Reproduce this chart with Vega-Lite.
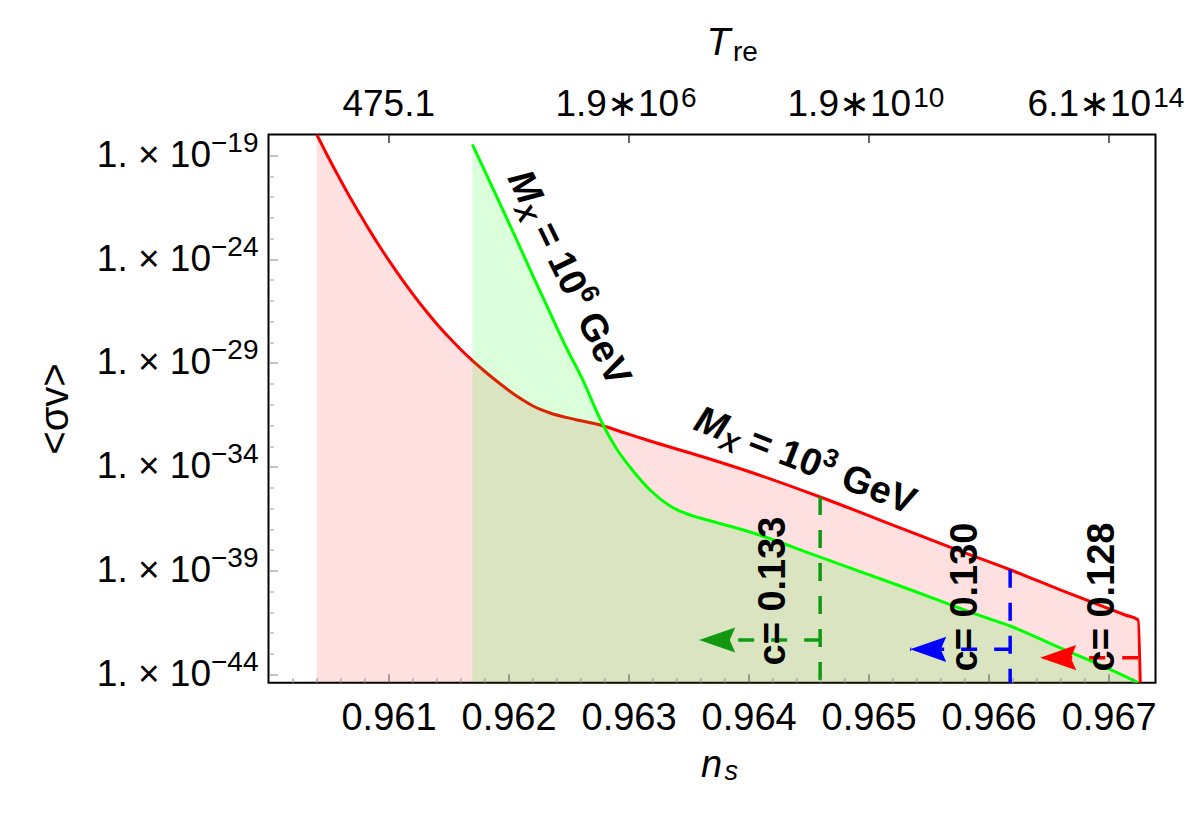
{
  "$schema": "https://vega.github.io/schema/vega-lite/v6.json",
  "width": 887,
  "height": 548.2,
  "autosize": {"type": "none"},
  "padding": {"left": 268.5, "top": 134.5, "right": 44.5, "bottom": 134.3},
  "background": "white",
  "config": {
    "view": {"stroke": "black", "strokeWidth": 2},
    "font": "Liberation Sans",
    "axis": {
      "grid": false,
      "domain": false,
      "labelFont": "Liberation Sans",
      "titleFont": "Liberation Sans",
      "labelColor": "black",
      "titleColor": "black",
      "labelFlush": false,
      "labelOverlap": false,
      "titleFontWeight": "normal"
    }
  },
  "datasets": {
    "mx3": [
      {"ns": 0.960402, "sv": 1.0e-18},
      {"ns": 0.960496, "sv": 8.53e-20},
      {"ns": 0.960596, "sv": 7.05e-21},
      {"ns": 0.960679, "sv": 9.57e-22},
      {"ns": 0.960763, "sv": 1.41e-22},
      {"ns": 0.960846, "sv": 2.23e-23},
      {"ns": 0.960929, "sv": 3.83e-24},
      {"ns": 0.961013, "sv": 7.1e-25},
      {"ns": 0.961096, "sv": 1.42e-25},
      {"ns": 0.961196, "sv": 2.31e-26},
      {"ns": 0.961304, "sv": 3.62e-27},
      {"ns": 0.961404, "sv": 7.33e-28},
      {"ns": 0.961513, "sv": 1.49e-28},
      {"ns": 0.961604, "sv": 4.3e-29},
      {"ns": 0.961704, "sv": 1.22e-29},
      {"ns": 0.961813, "sv": 3.47e-30},
      {"ns": 0.961929, "sv": 1.0e-30},
      {"ns": 0.962071, "sv": 2.47e-31},
      {"ns": 0.962204, "sv": 8.43e-32},
      {"ns": 0.962346, "sv": 3.88e-32},
      {"ns": 0.962554, "sv": 1.89e-32},
      {"ns": 0.962763, "sv": 1.03e-32},
      {"ns": 0.962971, "sv": 4.23e-33},
      {"ns": 0.963179, "sv": 1.74e-33},
      {"ns": 0.963596, "sv": 3.3e-34},
      {"ns": 0.964013, "sv": 5.6e-35},
      {"ns": 0.964596, "sv": 3.5e-36},
      {"ns": 0.965263, "sv": 1.14e-37},
      {"ns": 0.965763, "sv": 8.61e-39},
      {"ns": 0.966179, "sv": 1.1e-39},
      {"ns": 0.966596, "sv": 1.19e-40},
      {"ns": 0.966929, "sv": 2.13e-41},
      {"ns": 0.967138, "sv": 7.28e-42},
      {"ns": 0.967246, "sv": 4.19e-42},
      {"ns": 0.967263, "sv": 4.0e-45}
    ],
    "mx6": [
      {"ns": 0.961698, "sv": 3.37e-19},
      {"ns": 0.961888, "sv": 1.52e-21},
      {"ns": 0.962068, "sv": 8.32e-24},
      {"ns": 0.962204, "sv": 1.53e-25},
      {"ns": 0.962346, "sv": 2.54e-27},
      {"ns": 0.962479, "sv": 5.85e-29},
      {"ns": 0.962621, "sv": 1.4e-30},
      {"ns": 0.962763, "sv": 2.0e-32},
      {"ns": 0.962896, "sv": 8.02e-34},
      {"ns": 0.963038, "sv": 6.25e-35},
      {"ns": 0.963179, "sv": 7.6e-36},
      {"ns": 0.963346, "sv": 1.29e-36},
      {"ns": 0.963488, "sv": 5.31e-37},
      {"ns": 0.963596, "sv": 3.41e-37},
      {"ns": 0.964013, "sv": 7.23e-38},
      {"ns": 0.964586, "sv": 4.68e-39},
      {"ns": 0.965263, "sv": 1.82e-40},
      {"ns": 0.965992, "sv": 5.06e-42},
      {"ns": 0.966179, "sv": 2.15e-42},
      {"ns": 0.966596, "sv": 1.88e-43},
      {"ns": 0.966929, "sv": 2.85e-44},
      {"ns": 0.967246, "sv": 4.0e-45}
    ],
    "cuts": [
      {"c": "0.133", "label": "c= 0.133", "ns": 0.964596, "top": 3.5e-36, "tip": 0.963588, "arrow": 4.55e-43, "label_ns": 0.964213, "label_sv": 1.04e-40},
      {"c": "0.130", "label": "c= 0.130", "ns": 0.966179, "top": 1.1e-39, "tip": 0.965346, "arrow": 1.63e-43, "label_ns": 0.965809, "label_sv": 5.36e-41},
      {"c": "0.128", "label": "c= 0.128", "ns": 0.967246, "top": 4.19e-42, "tip": 0.966429, "arrow": 6.4e-44, "label_ns": 0.966954, "label_sv": 5.36e-41}
    ],
    "masses": [
      {"mass": "3", "ns": 0.963529, "sv": 6.59e-33},
      {"mass": "6", "ns": 0.961988, "sv": 8.04e-21}
    ]
  },
  "resolve": {"axis": {"x": "independent", "y": "independent"}},
  "layer": [
    {
      "data": {"name": "mx3"},
      "mark": {"type": "area", "color": "#ff0000", "opacity": 0.12, "clip": true, "interpolate": "monotone"},
      "encoding": {
        "x": {
          "field": "ns", "type": "quantitative",
          "scale": {"domain": [0.96, 0.96739], "nice": false, "zero": false},
          "axis": {
            "orient": "bottom", "values": [0.961, 0.962, 0.963, 0.964, 0.965, 0.966, 0.967],
            "format": ".3f", "ticks": false, "labelFontSize": 38, "labelPadding": 17,
            "title": "n", "titleFontSize": 38, "titleFontStyle": "italic",
            "titleX": 442.5, "titleY": 94, "titleAlign": "center", "titleBaseline": "alphabetic"
          }
        },
        "y": {
          "field": "sv", "type": "quantitative",
          "scale": {"type": "log", "domain": [4e-45, 1e-18], "nice": false},
          "axis": {
            "orient": "left", "values": [1e-19, 1e-24, 1e-29, 1e-34, 1e-39, 1e-44],
            "labelExpr": "'1. × 10'", "ticks": false, "labelFontSize": 37, "labelPadding": 58,
            "labelAlign": "right", "labelBaseline": "middle",
            "title": "<σv>", "titleFontSize": 40, "titleAngle": 270,
            "titleX": -213.5, "titleY": 274, "titleAlign": "center", "titleBaseline": "middle"
          }
        },
        "y2": {"datum": 4e-45}
      }
    },
    {
      "data": {"name": "mx3"},
      "mark": {"type": "line", "color": "#ff0000", "strokeWidth": 3, "clip": true, "interpolate": "monotone"},
      "encoding": {
        "x": {
          "field": "ns", "type": "quantitative",
          "scale": {"domain": [0.96, 0.96739], "nice": false, "zero": false},
          "axis": {
            "orient": "bottom", "values": [0.961, 0.962, 0.963, 0.964, 0.965, 0.966, 0.967],
            "labels": false, "tickSize": 9, "offset": -9, "tickColor": "#555555", "tickWidth": 1,
            "zindex": 1, "title": null
          }
        },
        "y": {
          "field": "sv", "type": "quantitative",
          "scale": {"type": "log", "domain": [4e-45, 1e-18], "nice": false},
          "axis": {
            "orient": "left", "values": [1e-19, 1e-24, 1e-29, 1e-34, 1e-39, 1e-44],
            "labelExpr": "'−' + round(-log(datum.value) / LN10)", "ticks": false,
            "labelFontSize": 28, "labelPadding": 58, "labelAlign": "left",
            "labelBaseline": "middle", "labelOffset": -12, "title": null
          }
        }
      }
    },
    {
      "data": {"name": "mx6"},
      "mark": {"type": "area", "color": "#00ff00", "opacity": 0.14, "clip": true, "interpolate": "monotone"},
      "encoding": {
        "x": {
          "field": "ns", "type": "quantitative",
          "scale": {"domain": [0.96, 0.96739], "nice": false, "zero": false},
          "axis": {
            "orient": "bottom",
            "values": [0.9602, 0.9604, 0.9606, 0.9608, 0.9612, 0.9614, 0.9616, 0.9618, 0.9622, 0.9624, 0.9626, 0.9628, 0.9632, 0.9634, 0.9636, 0.9638, 0.9642, 0.9644, 0.9646, 0.9648, 0.9652, 0.9654, 0.9656, 0.9658, 0.9662, 0.9664, 0.9666, 0.9668, 0.9672],
            "labels": false, "tickSize": 5, "offset": -5, "tickColor": "#888888", "tickWidth": 1,
            "zindex": 1,
            "title": "s", "titleFontSize": 27, "titleFontStyle": "italic",
            "titleX": 455.5, "titleY": 102, "titleAlign": "left", "titleBaseline": "alphabetic"
          }
        },
        "y": {
          "field": "sv", "type": "quantitative",
          "scale": {"type": "log", "domain": [4e-45, 1e-18], "nice": false},
          "axis": {
            "orient": "left", "values": [1e-19, 1e-24, 1e-29, 1e-34, 1e-39, 1e-44],
            "labels": false, "tickSize": 9, "offset": -9, "tickColor": "#888888", "tickWidth": 1,
            "zindex": 1, "title": null
          }
        },
        "y2": {"datum": 4e-45}
      }
    },
    {
      "data": {"name": "mx6"},
      "mark": {"type": "line", "color": "#00ff00", "strokeWidth": 3, "clip": true, "interpolate": "monotone"},
      "encoding": {
        "x": {
          "field": "ns", "type": "quantitative",
          "scale": {"domain": [0.96, 0.96739], "nice": false, "zero": false},
          "axis": {
            "orient": "top", "values": [0.961, 0.963, 0.965, 0.967],
            "labelExpr": "datum.value < 0.962 ? '475.1' : datum.value < 0.964 ? '1.9∗10' : datum.value < 0.966 ? '1.9∗10' : '6.1∗10'",
            "ticks": false, "labelFontSize": 37, "labelAlign": "right",
            "labelOffset": {"condition": [{"test": "datum.value < 0.962", "value": 46}, {"test": "datum.value < 0.964", "value": 50}], "value": 42},
            "labelBaseline": "alphabetic", "labelPadding": 19.5,
            "title": "T", "titleFontSize": 39, "titleFontStyle": "italic",
            "titleX": 449.5, "titleY": -80, "titleAlign": "center", "titleBaseline": "alphabetic"
          }
        },
        "y": {
          "field": "sv", "type": "quantitative",
          "scale": {"type": "log", "domain": [4e-45, 1e-18], "nice": false},
          "axis": {
            "orient": "left",
            "values": [1e-20, 1e-21, 1e-22, 1e-23, 1e-25, 1e-26, 1e-27, 1e-28, 1e-30, 1e-31, 1e-32, 1e-33, 1e-35, 1e-36, 1e-37, 1e-38, 1e-40, 1e-41, 1e-42, 1e-43],
            "labels": false, "tickSize": 5, "offset": -5, "tickColor": "#999999", "tickWidth": 1,
            "zindex": 1, "title": null
          }
        }
      }
    },
    {
      "mark": {"type": "rule", "color": "#9a9a9a", "strokeWidth": 1},
      "encoding": {
        "y": {"datum": 4.6e-42, "type": "quantitative", "scale": {"type": "log", "domain": [4e-45, 1e-18], "nice": false}, "axis": null}
      }
    },
    {
      "data": {"name": "cuts"},
      "transform": [{"filter": "datum.c != '0.128'"}],
      "mark": {"type": "rule", "strokeWidth": 3.5, "strokeDash": [18, 15]},
      "encoding": {
        "x": {
          "field": "ns", "type": "quantitative",
          "scale": {"domain": [0.96, 0.96739], "nice": false, "zero": false},
          "axis": {
            "orient": "top", "values": [0.961, 0.963, 0.965, 0.967],
            "labelExpr": "datum.value < 0.962 ? '' : datum.value < 0.964 ? '6' : datum.value < 0.966 ? '10' : '14'",
            "ticks": false, "labelFontSize": 28, "labelAlign": "left",
            "labelOffset": {"condition": {"test": "datum.value < 0.964", "value": 52}, "value": 44},
            "labelBaseline": "alphabetic", "labelPadding": 28,
            "title": "re", "titleFontSize": 28, "titleFontStyle": "normal",
            "titleX": 464, "titleY": -74, "titleAlign": "left", "titleBaseline": "alphabetic"
          }
        },
        "y": {"field": "top", "type": "quantitative", "scale": {"type": "log", "domain": [4e-45, 1e-18], "nice": false}, "axis": null},
        "y2": {"datum": 4e-45},
        "color": {"field": "c", "type": "nominal", "scale": {"domain": ["0.133", "0.130", "0.128"], "range": ["#119911", "#0000ff", "#ff0000"]}, "legend": null}
      }
    },
    {
      "data": {"name": "cuts"},
      "mark": {"type": "rule", "strokeWidth": 3.5, "strokeDash": [16, 17]},
      "encoding": {
        "x": {
          "field": "ns", "type": "quantitative",
          "scale": {"domain": [0.96, 0.96739], "nice": false, "zero": false},
          "axis": {
            "orient": "top", "values": [0.961, 0.963, 0.965, 0.967],
            "labels": false, "tickSize": 8, "offset": -8, "tickColor": "#333333", "tickWidth": 1.5,
            "zindex": 1, "title": null
          }
        },
        "x2": {"field": "tip"},
        "y": {"field": "arrow", "type": "quantitative", "scale": {"type": "log", "domain": [4e-45, 1e-18], "nice": false}, "axis": null},
        "color": {"field": "c", "type": "nominal", "scale": {"domain": ["0.133", "0.130", "0.128"], "range": ["#119911", "#0000ff", "#ff0000"]}, "legend": null}
      }
    },
    {
      "data": {"name": "cuts"},
      "mark": {"type": "point", "shape": "M0,0L2,-0.7L1.7,0L2,0.7Z", "size": 1300, "filled": true, "opacity": 1},
      "encoding": {
        "x": {"field": "tip", "type": "quantitative", "scale": {"domain": [0.96, 0.96739], "nice": false, "zero": false}, "axis": null},
        "y": {"field": "arrow", "type": "quantitative", "scale": {"type": "log", "domain": [4e-45, 1e-18], "nice": false}, "axis": null},
        "color": {"field": "c", "type": "nominal", "scale": {"domain": ["0.133", "0.130", "0.128"], "range": ["#119911", "#0000ff", "#ff0000"]}, "legend": null}
      }
    },
    {
      "data": {"name": "cuts"},
      "mark": {"type": "text", "angle": 270, "fontSize": 38, "fontWeight": "bold", "align": "center", "baseline": "middle", "color": "black"},
      "encoding": {
        "x": {"field": "label_ns", "type": "quantitative", "scale": {"domain": [0.96, 0.96739], "nice": false, "zero": false}, "axis": null},
        "y": {"field": "label_sv", "type": "quantitative", "scale": {"type": "log", "domain": [4e-45, 1e-18], "nice": false}, "axis": null},
        "text": {"field": "label"}
      }
    },
    {
      "data": {"name": "masses"},
      "transform": [{"filter": "datum.mass == '3'"}],
      "encoding": {
        "x": {"field": "ns", "type": "quantitative", "scale": {"domain": [0.96, 0.96739], "nice": false, "zero": false}, "axis": null},
        "y": {"field": "sv", "type": "quantitative", "scale": {"type": "log", "domain": [4e-45, 1e-18], "nice": false}, "axis": null}
      },
      "layer": [
        {"mark": {"type": "text", "text": "M", "angle": 21.5, "fontSize": 38, "fontWeight": "bold", "fontStyle": "italic", "align": "left", "baseline": "alphabetic", "color": "black"}},
        {"mark": {"type": "text", "text": "X", "angle": 21.5, "dx": 31, "dy": 8, "fontSize": 26, "fontWeight": "bold", "fontStyle": "italic", "align": "left", "baseline": "alphabetic", "color": "black"}},
        {"mark": {"type": "text", "text": "= 10", "angle": 21.5, "dx": 58, "fontSize": 38, "fontWeight": "bold", "align": "left", "baseline": "alphabetic", "color": "black"}},
        {"mark": {"type": "text", "text": "3", "angle": 21.5, "dx": 133, "dy": -15, "fontSize": 26, "fontWeight": "bold", "align": "left", "baseline": "alphabetic", "color": "black"}},
        {"mark": {"type": "text", "text": "GeV", "angle": 21.5, "dx": 158, "fontSize": 38, "fontWeight": "bold", "align": "left", "baseline": "alphabetic", "color": "black"}}
      ]
    },
    {
      "data": {"name": "masses"},
      "transform": [{"filter": "datum.mass == '6'"}],
      "encoding": {
        "x": {"field": "ns", "type": "quantitative", "scale": {"domain": [0.96, 0.96739], "nice": false, "zero": false}, "axis": null},
        "y": {"field": "sv", "type": "quantitative", "scale": {"type": "log", "domain": [4e-45, 1e-18], "nice": false}, "axis": null}
      },
      "layer": [
        {"mark": {"type": "text", "text": "M", "angle": 64, "fontSize": 38, "fontWeight": "bold", "fontStyle": "italic", "align": "left", "baseline": "alphabetic", "color": "black"}},
        {"mark": {"type": "text", "text": "X", "angle": 64, "dx": 31, "dy": 8, "fontSize": 26, "fontWeight": "bold", "fontStyle": "italic", "align": "left", "baseline": "alphabetic", "color": "black"}},
        {"mark": {"type": "text", "text": "= 10", "angle": 64, "dx": 58, "fontSize": 38, "fontWeight": "bold", "align": "left", "baseline": "alphabetic", "color": "black"}},
        {"mark": {"type": "text", "text": "6", "angle": 64, "dx": 133, "dy": -15, "fontSize": 26, "fontWeight": "bold", "align": "left", "baseline": "alphabetic", "color": "black"}},
        {"mark": {"type": "text", "text": "GeV", "angle": 64, "dx": 158, "fontSize": 38, "fontWeight": "bold", "align": "left", "baseline": "alphabetic", "color": "black"}}
      ]
    }
  ]
}
